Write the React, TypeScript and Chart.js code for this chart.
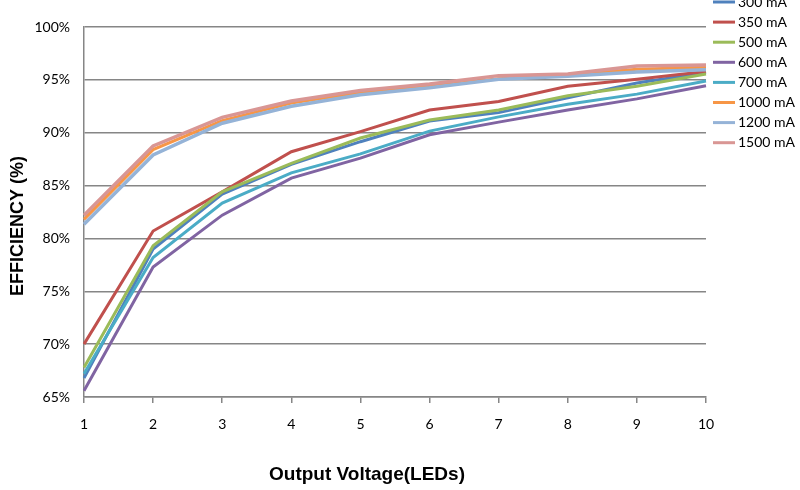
import React, { useEffect, useRef } from "react";
import { Chart, registerables } from "chart.js";

Chart.register(...registerables);

const categories = ["1", "2", "3", "4", "5", "6", "7", "8", "9", "10"];
const seriesLabels = ["300 mA", "350 mA", "500 mA", "600 mA", "700 mA", "1000 mA", "1200 mA", "1500 mA"];
const s300 = [66.8, 79.0, 84.2, 87.0, 89.15, 91.1, 91.9, 93.3, 94.7, 95.7];
const s350 = [70.0, 80.7, 84.4, 88.2, 90.1, 92.15, 92.95, 94.4, 95.05, 95.8];
const s500 = [67.8, 79.3, 84.4, 87.1, 89.5, 91.2, 92.15, 93.5, 94.4, 95.55];
const s600 = [65.6, 77.3, 82.2, 85.7, 87.6, 89.8, 91.0, 92.15, 93.2, 94.45];
const s700 = [67.2, 78.2, 83.35, 86.2, 88.0, 90.15, 91.5, 92.7, 93.65, 94.9];
const s1000 = [81.8, 88.4, 91.15, 92.8, 93.8, 94.4, 95.1, 95.45, 96.0, 96.2];
const s1200 = [81.35, 87.9, 90.9, 92.5, 93.6, 94.25, 95.05, 95.35, 95.75, 95.95];
const s1500 = [82.2, 88.75, 91.45, 93.0, 94.0, 94.6, 95.4, 95.55, 96.3, 96.4];
const seriesValues = [s300, s350, s500, s600, s700, s1000, s1200, s1500];
const seriesColors = ["#4F81BD", "#C0504D", "#9BBB59", "#8064A2", "#4BACC6", "#F79646", "#95B3D7", "#D99694"];
const yTickValues = [65, 70, 75, 80, 85, 90, 95, 100];
const X_TITLE = "Output Voltage(LEDs)";
const Y_TITLE = "EFFICIENCY (%)";

const overlayPlugin = {
  id: "overlay",
  afterDraw(chart: any) {
    const ctx = chart.ctx;
    ctx.save();
    ctx.fillStyle = "#000";
    ctx.textAlign = "center";
    ctx.textBaseline = "middle";
    ctx.font = 'bold 19px "Liberation Sans", Arial, sans-serif';
    ctx.fillText(X_TITLE, 367, 475);
    ctx.save();
    ctx.font = 'bold 18px "Liberation Sans", Arial, sans-serif';
    ctx.translate(18, 226);
    ctx.rotate(-Math.PI / 2);
    ctx.fillText(Y_TITLE, 0, 0);
    ctx.restore();
    // legend
    ctx.font = '14px Lato, sans-serif';
    ctx.textAlign = "left";
    chart.data.datasets.forEach((ds: any, i: number) => {
      const y = 2 + i * 20.1;
      ctx.strokeStyle = ds.borderColor;
      ctx.lineWidth = 3;
      ctx.beginPath();
      ctx.moveTo(713, y);
      ctx.lineTo(735, y);
      ctx.stroke();
      ctx.fillStyle = "#000";
      ctx.fillText(ds.label, 738, y);
    });
    ctx.restore();
  },
};

export default function App() {
  const ref = useRef<HTMLCanvasElement | null>(null);
  useEffect(() => {
    if (!ref.current) return;
    const n = seriesLabels.length;
    const chart = new Chart(ref.current, {
      type: "line",
      data: {
        labels: categories,
        datasets: seriesLabels.map((label, i) => ({
          label,
          data: seriesValues[i],
          borderColor: seriesColors[i],
          backgroundColor: seriesColors[i],
          borderWidth: i >= 6 ? 3.5 : 3,
          pointRadius: 0,
          tension: 0,
          fill: false,
          order: n - i,
        })),
      },
      options: {
        animation: false,
        responsive: true,
        maintainAspectRatio: false,
        layout: { padding: { top: 27, right: 94, left: 0, bottom: 0 } },
        plugins: { legend: { display: false }, tooltip: { enabled: false } },
        scales: {
          x: {
            type: "category",
            offset: false,
            afterFit: (s: any) => { s.height = 93; },
            grid: { display: true, drawOnChartArea: false, drawTicks: true, tickLength: 6, color: "#868686", lineWidth: 1.5 },
            border: { display: true, color: "#868686", width: 1.5 },
            ticks: { padding: 13, color: "#000", font: { family: "Lato", size: 14 }, maxRotation: 0, autoSkip: false },
          },
          y: {
            min: 65,
            max: 100,
            afterFit: (s: any) => { s.width = 84; },
            afterBuildTicks: (s: any) => { s.ticks = yTickValues.map((v) => ({ value: v })); },
            grid: { color: "#868686", lineWidth: 1.5, drawTicks: false },
            border: { display: true, color: "#868686", width: 1.5 },
            ticks: { padding: 14, color: "#000", font: { family: "Lato", size: 14 }, callback: (v: any) => v + "%" },
          },
        },
      },
      plugins: [overlayPlugin],
    });
    return () => chart.destroy();
  }, []);
  return (
    <div style={{ position: "fixed", left: 0, top: 0, width: 800, height: 490, background: "#fff" }}>
      <canvas ref={ref} />
    </div>
  );
}
